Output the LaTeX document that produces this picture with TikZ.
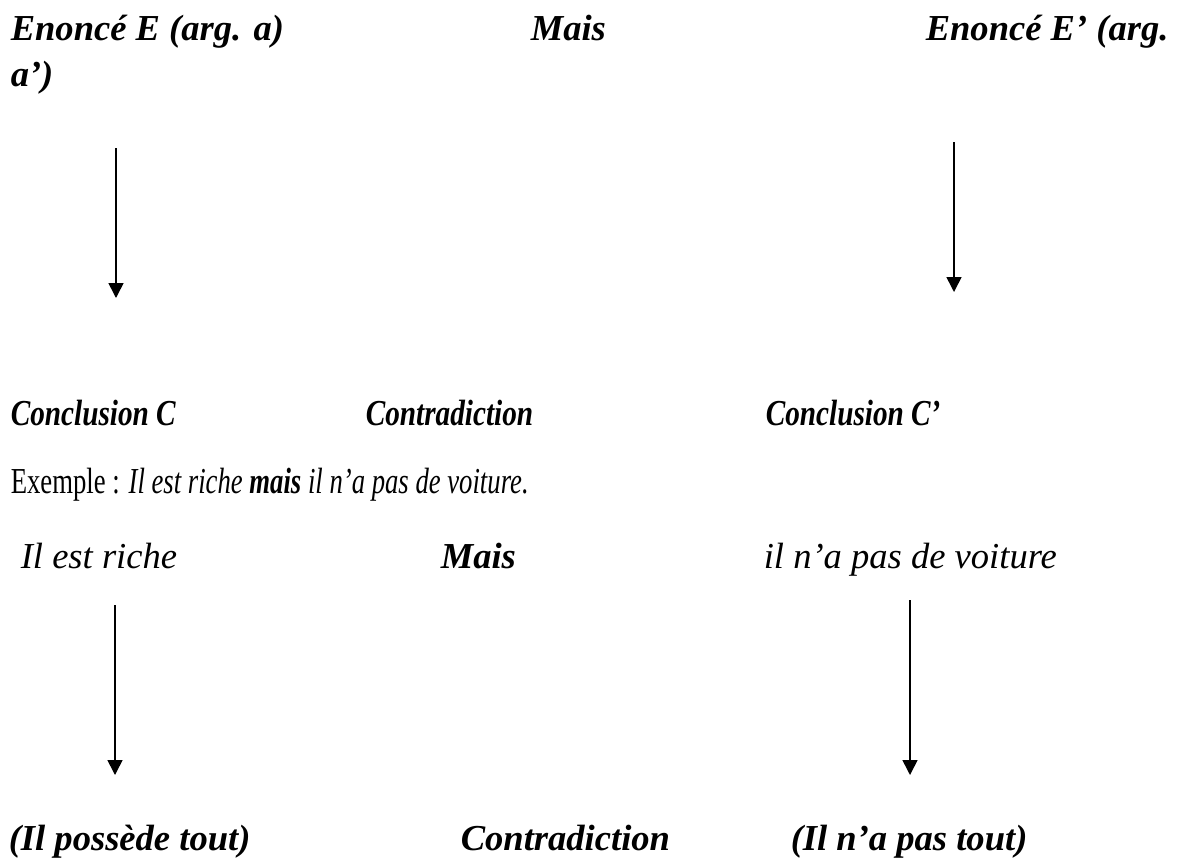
\documentclass[tikz,border=0pt]{standalone}
\usepackage{fontspec}
\setmainfont{Liberation Serif}
\newfontfamily\narrowrm[FakeStretch=0.8]{Liberation Serif}
\newfontfamily\narrowerrm[FakeStretch=0.73]{Liberation Serif}
\usetikzlibrary{arrows.meta,positioning}
\tikzset{>={Triangle[width=10.5pt,length=10.5pt]}}
\tikzset{txt/.style={anchor=base west, inner sep=0pt, font=#1\fontsize{26}{26}\selectfont\bfseries\itshape},
         txt/.default=\rmfamily,
         plain/.style={anchor=base west, inner sep=0pt, font=#1\fontsize{26}{26}\selectfont\itshape},
         plain/.default=\rmfamily}

\begin{document}
\begin{tikzpicture}[x=0.025cm, y=-0.025cm, line width=1.1pt]
		\useasboundingbox (0,0) rectangle (1184,857);
		% schema general
		\node[txt]             (enonce)     at (10,40)   {Enoncé E (arg. a)};
		\node[txt]             (mais)       at (530,40)  {Mais};
		\node[txt]             (enoncep)    at (925,40)  {Enoncé E’ (arg.};
		\node[txt]             (enoncepb)   at (10,86)   {a’)};
		
		\node[txt=\narrowrm]   (concl)      at (10,425)  {Conclusion C};
		\node[txt=\narrowrm]   (contra)     at (365,425) {Contradiction};
		\node[txt=\narrowrm]   (conclp)     at (765,425) {Conclusion C’};
		
		\coordinate (enoncearr)  at (116,148);
		\coordinate (conclarr)   at (116,298);
		\coordinate (enoncearrp) at (954,142);
		\coordinate (conclarrp)  at (954,292);
		
		\draw[->] (enoncearr) -- (conclarr);
		\draw[->] (enoncearrp) -- (conclarrp);
		
		% exemple
		\node[plain, font=\narrowerrm\fontsize{26}{26}\selectfont] (exemple) at (10,493)
		    {Exemple : \textit{Il est riche \textbf{mais} il n’a pas de voiture.}};
		
		\node[plain]           (riche)      at (20,568)  {Il est riche};
		\node[txt]             (mais2)      at (440,568) {Mais};
		\node[plain]           (voiture)    at (763,568) {il n’a pas de voiture};
		
		\node[txt]             (possede)    at (8,850)   {(Il possède tout)};
		\node[txt]             (contra2)    at (460,850) {Contradiction};
		\node[txt]             (pastout)    at (790,850) {(Il n’a pas tout)};
		
		\coordinate (richearr)   at (115,605);
		\coordinate (possedearr) at (115,775);
		\coordinate (voiturearr) at (910,600);
		\coordinate (pastoutarr) at (910,775);
		
		\draw[->] (richearr) -- (possedearr);
		\draw[->] (voiturearr) -- (pastoutarr);
	\end{tikzpicture}
\end{document}
